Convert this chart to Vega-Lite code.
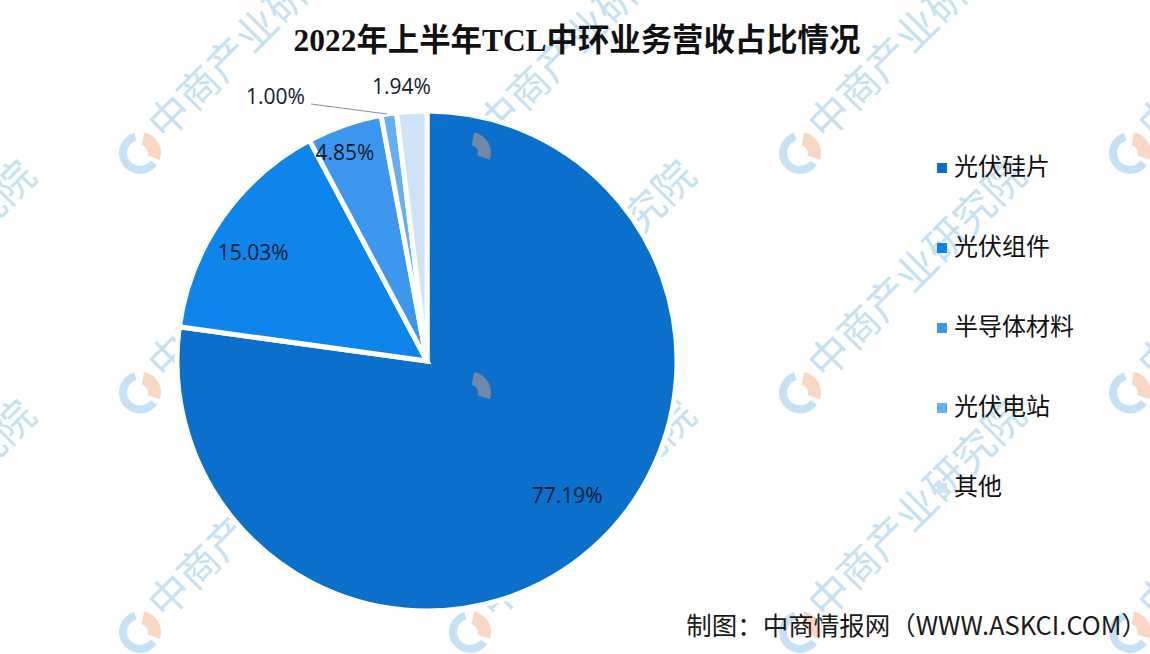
{"$schema":"https://vega.github.io/schema/vega-lite/v6.json","width":1150,"height":654,"padding":0,"autosize":{"type":"none"},"background":"#ffffff","config":{"view":{"stroke":null},"font":"Noto Sans CJK SC"},"datasets":{"pie":[{"name":"光伏硅片","rank":1,"share":77.19,"label":"77.19%"},{"name":"光伏组件","rank":2,"share":15.03,"label":"15.03%"},{"name":"半导体材料","rank":3,"share":4.85,"label":"4.85%"},{"name":"光伏电站","rank":4,"share":1.0,"label":"1.00%"},{"name":"其他","rank":5,"share":1.94,"label":"1.94%"}],"grid":[{"col":-1,"row":0},{"col":0,"row":0},{"col":1,"row":0},{"col":2,"row":0},{"col":3,"row":0},{"col":-1,"row":1},{"col":0,"row":1},{"col":1,"row":1},{"col":2,"row":1},{"col":3,"row":1},{"col":-1,"row":2},{"col":0,"row":2},{"col":1,"row":2},{"col":2,"row":2},{"col":3,"row":2}],"one":[{"note":"annotation"}]},"layer":[{"data":{"name":"grid"},"mark":{"type":"text","text":"中商产业研究院","fontSize":41,"angle":-45,"align":"left","baseline":"middle","font":"Noto Sans CJK SC","color":"#8fc3ea","opacity":0.5,"dx":26,"dy":-2},"encoding":{"x":{"field":"col","type":"quantitative","scale":{"domain":[0,3],"range":[140,1130]},"axis":null},"y":{"field":"row","type":"quantitative","scale":{"domain":[0,2],"range":[153,632]},"axis":null}}},{"data":{"name":"grid"},"mark":{"type":"arc","innerRadius":13,"outerRadius":21,"theta":2.2,"theta2":6.0,"color":"#8fc3ea","opacity":0.5},"encoding":{"x":{"field":"col","type":"quantitative"},"y":{"field":"row","type":"quantitative"}}},{"data":{"name":"pie"},"mark":{"type":"arc","x":427,"y":361,"outerRadius":250,"stroke":"#ffffff","strokeWidth":5},"encoding":{"theta":{"field":"share","type":"quantitative","stack":true},"order":{"field":"rank","type":"quantitative"},"color":{"field":"name","type":"nominal","scale":{"domain":["光伏硅片","光伏组件","半导体材料","光伏电站","其他"],"range":["#0a70cc","#0d85ea","#3d97ee","#66aff2","#cfe3f8"]},"legend":{"orient":"none","legendX":930,"legendY":156,"title":null,"symbolType":"square","symbolSize":100,"labelFontSize":24,"labelColor":"#111111","labelFont":"Noto Sans CJK SC","rowPadding":56,"labelLimit":200,"symbolStrokeWidth":0,"labelOffset":0,"encode":{"symbols":{"update":{"opacity":{"signal":"datum.value==='其他'?0:1"}}}}}}}},{"data":{"name":"grid"},"mark":{"type":"arc","innerRadius":8,"outerRadius":21,"theta":0.2,"theta2":1.9,"color":"#f2a679","opacity":0.45},"encoding":{"x":{"field":"col","type":"quantitative"},"y":{"field":"row","type":"quantitative"}}},{"data":{"name":"pie"},"mark":{"type":"text","x":427,"y":361,"radius":195,"fontSize":21,"font":"Open Sans","color":"#0f1b2e","dx":12,"dy":-11},"encoding":{"theta":{"field":"share","type":"quantitative","stack":true},"detail":{"field":"name"},"order":{"field":"rank","type":"quantitative"},"text":{"condition":{"test":"datum.name==='光伏硅片'","field":"label"},"value":""}}},{"data":{"name":"pie"},"mark":{"type":"text","x":427,"y":361,"radius":195,"fontSize":21,"font":"Open Sans","color":"#0f1b2e","dx":-14,"dy":5},"encoding":{"theta":{"field":"share","type":"quantitative","stack":true},"detail":{"field":"name"},"order":{"field":"rank","type":"quantitative"},"text":{"condition":{"test":"datum.name==='光伏组件'","field":"label"},"value":""}}},{"data":{"name":"pie"},"mark":{"type":"text","x":427,"y":361,"radius":215,"fontSize":21,"font":"Open Sans","color":"#0f1b2e","dx":-11,"dy":-4},"encoding":{"theta":{"field":"share","type":"quantitative","stack":true},"detail":{"field":"name"},"order":{"field":"rank","type":"quantitative"},"text":{"condition":{"test":"datum.name==='半导体材料'","field":"label"},"value":""}}},{"data":{"name":"pie"},"mark":{"type":"text","x":427,"y":361,"radius":266,"fontSize":21,"font":"Open Sans","color":"#0f1b2e","dx":-111,"dy":0},"encoding":{"theta":{"field":"share","type":"quantitative","stack":true},"detail":{"field":"name"},"order":{"field":"rank","type":"quantitative"},"text":{"condition":{"test":"datum.name==='光伏电站'","field":"label"},"value":""}}},{"data":{"name":"pie"},"mark":{"type":"text","x":427,"y":361,"radius":273,"fontSize":21,"font":"Open Sans","color":"#0f1b2e","dx":-9,"dy":-1},"encoding":{"theta":{"field":"share","type":"quantitative","stack":true},"detail":{"field":"name"},"order":{"field":"rank","type":"quantitative"},"text":{"condition":{"test":"datum.name==='其他'","field":"label"},"value":""}}},{"data":{"name":"one"},"mark":{"type":"rule","color":"#8a8f96","strokeWidth":1.2},"encoding":{"x":{"value":311},"y":{"value":104},"x2":{"value":387},"y2":{"value":114}}},{"data":{"name":"one"},"mark":{"type":"text","x":577,"y":42,"align":"center","baseline":"middle","text":"2022年上半年TCL中环业务营收占比情况","font":"Liberation Serif, Noto Sans CJK SC","fontSize":31.4,"fontWeight":"bold","color":"#111111"},"encoding":{}},{"data":{"name":"one"},"mark":{"type":"text","x":1147,"y":627,"align":"right","baseline":"middle","text":"制图：中商情报网（WWW.ASKCI.COM）","fontSize":25.5,"font":"Noto Sans CJK SC","color":"#1a1a1a"},"encoding":{}}]}
